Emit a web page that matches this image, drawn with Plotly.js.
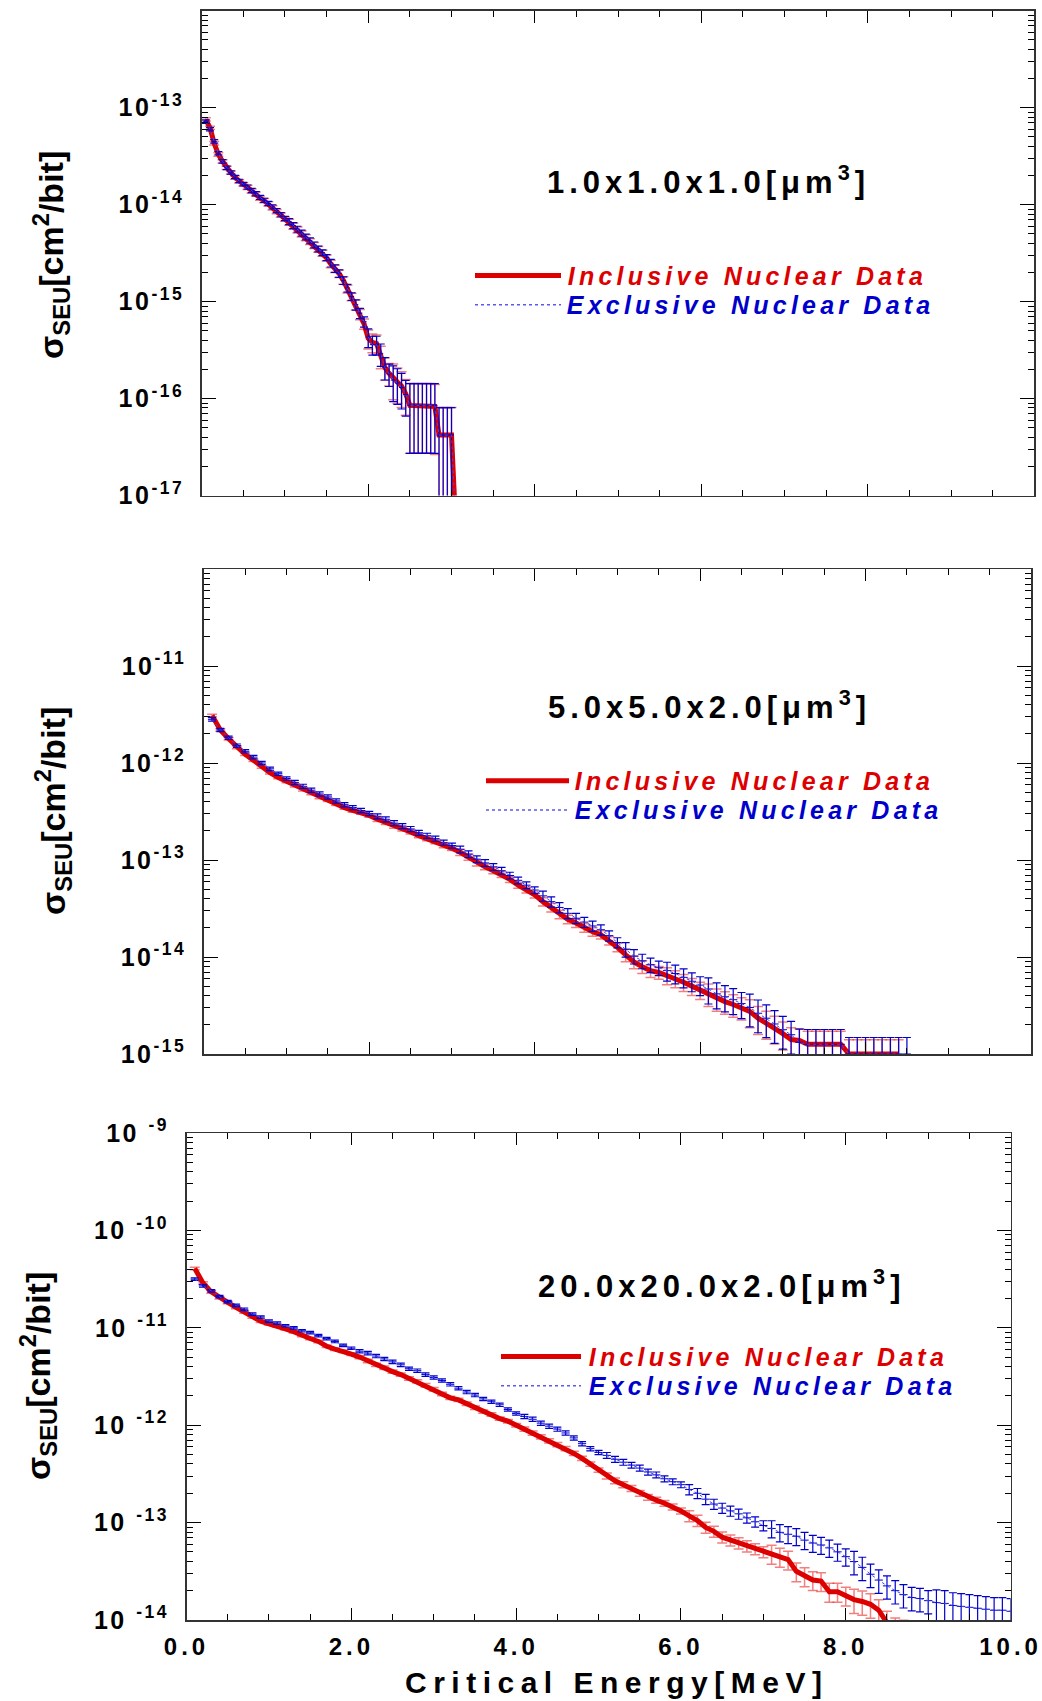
<!DOCTYPE html>
<html>
<head>
<meta charset="utf-8">
<script src="https://cdn.plot.ly/plotly-3.0.1.min.js"></script>
<style>
html,body{margin:0;padding:0;background:#fff;}
#chart{width:1042px;height:1701px;}
</style>
</head>
<body>
<div id="chart"></div>
<script>
// ---------------- DATA ----------------
// Panel 1 : 1.0x1.0x1.0 um^3
const energy1 = [0.05,0.10,0.15,0.20,0.25,0.30,0.35,0.40,0.45,0.50,
  0.55,0.60,0.65,0.70,0.75,0.80,0.85,0.90,0.95,1.00,
  1.05,1.10,1.15,1.20,1.25,1.30,1.35,1.40,1.45,1.50,
  1.55,1.60,1.65,1.70,1.75,1.80,1.85,1.90,1.95,2.00,
  2.05,2.10,2.15,2.20,2.25,2.30,2.35,2.40,2.45,2.50,
  2.55,2.60,2.65,2.70,2.75,2.80,2.85,2.90,2.95,3.00,3.05];
const inclusive1 = [7.6e-14,6.2e-14,4.3e-14,3.3e-14,2.8e-14,2.4e-14,2.14e-14,1.91e-14,1.74e-14,1.62e-14,
  1.51e-14,1.38e-14,1.29e-14,1.17e-14,1.10e-14,1.02e-14,9.3e-15,8.5e-15,7.8e-15,7.1e-15,
  6.6e-15,6.0e-15,5.5e-15,5.0e-15,4.57e-15,4.17e-15,3.8e-15,3.47e-15,3.16e-15,2.82e-15,
  2.45e-15,2.19e-15,1.95e-15,1.66e-15,1.35e-15,1.12e-15,9.3e-16,7.4e-16,5.9e-16,4.17e-16,
  3.8e-16,3.7e-16,2.75e-16,2.09e-16,1.82e-16,1.62e-16,1.48e-16,1.35e-16,1.12e-16,8.5e-17,
  8.5e-17,8.5e-17,8.5e-17,8.5e-17,8.5e-17,8.3e-17,4.2e-17,4.2e-17,4.2e-17,4.2e-17,5e-18];
const exclusive1 = [7.2e-14,6.0e-14,4.5e-14,3.4e-14,2.8e-14,2.4e-14,2.15e-14,1.93e-14,1.76e-14,1.63e-14,
  1.52e-14,1.40e-14,1.30e-14,1.19e-14,1.11e-14,1.03e-14,9.5e-15,8.7e-15,7.9e-15,7.2e-15,
  6.7e-15,6.1e-15,5.6e-15,5.1e-15,4.65e-15,4.25e-15,3.85e-15,3.5e-15,3.2e-15,2.85e-15,
  2.5e-15,2.2e-15,1.95e-15,1.65e-15,1.38e-15,1.13e-15,9.3e-16,7.6e-16,6.2e-16,4.3e-16,
  3.6e-16,3.6e-16,2.9e-16,2.1e-16,1.8e-16,1.55e-16,1.45e-16,1.3e-16,1.1e-16,8.5e-17,
  8.5e-17,8.5e-17,8.5e-17,8.5e-17,8.5e-17,8.5e-17,4.2e-17,4.2e-17,4.2e-17,4.2e-17,5e-18];
const relErr1 = [0.04,0.04,0.04,0.04,0.04,0.04,0.04,0.04,0.04,0.04,
  0.05,0.05,0.05,0.05,0.05,0.05,0.05,0.05,0.05,0.05,
  0.07,0.07,0.07,0.07,0.07,0.07,0.07,0.07,0.07,0.07,
  0.09,0.09,0.09,0.09,0.09,0.09,0.12,0.12,0.12,0.22,
  0.22,0.22,0.26,0.26,0.26,0.40,0.40,0.40,0.40,0.68,
  0.68,0.68,0.68,0.68,0.68,0.68,0.92,0.92,0.92,0.92,0.90];

// Panel 2 : 5.0x5.0x2.0 um^3
const energy2 = [0.1,0.2,0.3,0.4,0.5,0.6,0.7,0.8,0.9,1.0,
  1.1,1.2,1.3,1.4,1.5,1.6,1.7,1.8,1.9,2.0,
  2.1,2.2,2.3,2.4,2.5,2.6,2.7,2.8,2.9,3.0,
  3.1,3.2,3.3,3.4,3.5,3.6,3.7,3.8,3.9,4.0,
  4.1,4.2,4.3,4.4,4.5,4.6,4.7,4.8,4.9,5.0,
  5.1,5.2,5.3,5.4,5.5,5.6,5.7,5.8,5.9,6.0,
  6.1,6.2,6.3,6.4,6.5,6.6,6.7,6.8,6.9,7.0,
  7.1,7.2,7.3,7.4,7.5,7.6,7.7,7.8,7.9,8.0,
  8.1,8.2,8.3,8.4,8.5];
const inclusive2 = [3.09e-12,2.19e-12,1.78e-12,1.45e-12,1.23e-12,1.07e-12,9.12e-13,7.94e-13,7.08e-13,6.46e-13,
  5.89e-13,5.37e-13,4.90e-13,4.47e-13,4.17e-13,3.80e-13,3.47e-13,3.24e-13,3.09e-13,2.88e-13,
  2.63e-13,2.45e-13,2.24e-13,2.09e-13,1.95e-13,1.78e-13,1.66e-13,1.55e-13,1.41e-13,1.32e-13,
  1.20e-13,1.07e-13,9.33e-14,8.51e-14,7.76e-14,7.08e-14,6.31e-14,5.50e-14,4.90e-14,4.37e-14,
  3.72e-14,3.24e-14,2.75e-14,2.45e-14,2.24e-14,2.00e-14,1.82e-14,1.70e-14,1.48e-14,1.26e-14,
  1.05e-14,8.91e-15,7.94e-15,7.24e-15,6.92e-15,6.46e-15,6.03e-15,5.50e-15,5.01e-15,4.57e-15,
  4.17e-15,3.72e-15,3.47e-15,3.24e-15,3.02e-15,2.75e-15,2.34e-15,2.09e-15,1.86e-15,1.62e-15,
  1.41e-15,1.38e-15,1.26e-15,1.26e-15,1.26e-15,1.26e-15,1.26e-15,1.0e-15,1.0e-15,1.0e-15,
  1.0e-15,1.0e-15,1.0e-15,1.0e-15];
const exclusive2 = [2.82e-12,2.19e-12,1.82e-12,1.51e-12,1.32e-12,1.15e-12,1.00e-12,8.71e-13,7.76e-13,6.92e-13,
  6.31e-13,5.75e-13,5.25e-13,4.79e-13,4.47e-13,4.07e-13,3.72e-13,3.47e-13,3.24e-13,3.02e-13,
  2.82e-13,2.63e-13,2.40e-13,2.24e-13,2.09e-13,1.91e-13,1.78e-13,1.66e-13,1.51e-13,1.41e-13,
  1.29e-13,1.15e-13,1.02e-13,9.33e-14,8.51e-14,7.76e-14,6.92e-14,6.17e-14,5.50e-14,4.90e-14,
  4.27e-14,3.72e-14,3.24e-14,2.82e-14,2.51e-14,2.29e-14,2.09e-14,1.91e-14,1.66e-14,1.41e-14,
  1.20e-14,1.02e-14,9.12e-15,8.32e-15,7.76e-15,7.24e-15,6.76e-15,6.17e-15,5.62e-15,5.13e-15,
  4.68e-15,4.17e-15,3.89e-15,3.63e-15,3.31e-15,3.02e-15,2.63e-15,2.34e-15,2.04e-15,1.78e-15,
  1.58e-15,1.32e-15,1.26e-15,1.26e-15,1.26e-15,1.26e-15,1.26e-15,1.0e-15,1.0e-15,1.0e-15,
  1.0e-15,1.0e-15,1.0e-15,1.0e-15,1.0e-15];
const relErrInc2 = [0.03,0.03,0.03,0.03,0.03,0.03,0.03,0.03,0.03,0.03,
  0.04,0.04,0.04,0.04,0.04,0.04,0.04,0.04,0.04,0.04,
  0.05,0.05,0.05,0.05,0.05,0.05,0.05,0.05,0.05,0.05,
  0.07,0.07,0.07,0.07,0.07,0.07,0.07,0.07,0.07,0.07,
  0.10,0.10,0.10,0.10,0.10,0.10,0.10,0.10,0.10,0.10,
  0.15,0.15,0.15,0.15,0.15,0.20,0.20,0.20,0.20,0.20,
  0.26,0.26,0.26,0.26,0.26,0.32,0.32,0.32,0.32,0.32,
  0.32,0.32,0.36,0.36,0.36,0.36,0.36,0.40,0.40,0.40,
  0.40,0.40,0.40,0.40];
const relErrExc2 = [0.04,0.04,0.04,0.04,0.04,0.04,0.04,0.04,0.04,0.04,
  0.05,0.05,0.05,0.05,0.05,0.05,0.05,0.05,0.05,0.05,
  0.06,0.06,0.06,0.06,0.06,0.06,0.06,0.06,0.06,0.06,
  0.08,0.08,0.08,0.08,0.08,0.08,0.08,0.08,0.08,0.08,
  0.12,0.12,0.12,0.12,0.12,0.12,0.12,0.12,0.12,0.12,
  0.17,0.17,0.17,0.17,0.17,0.22,0.22,0.22,0.22,0.22,
  0.30,0.30,0.30,0.30,0.30,0.37,0.37,0.37,0.37,0.37,
  0.37,0.37,0.42,0.42,0.42,0.42,0.42,0.48,0.48,0.48,
  0.48,0.48,0.48,0.48,0.48];

// Panel 3 : 20.0x20.0x2.0 um^3
const energy3 = [0.1,0.2,0.3,0.4,0.5,0.6,0.7,0.8,0.9,1.0,
  1.1,1.2,1.3,1.4,1.5,1.6,1.7,1.8,1.9,2.0,
  2.1,2.2,2.3,2.4,2.5,2.6,2.7,2.8,2.9,3.0,
  3.1,3.2,3.3,3.4,3.5,3.6,3.7,3.8,3.9,4.0,
  4.1,4.2,4.3,4.4,4.5,4.6,4.7,4.8,4.9,5.0,
  5.1,5.2,5.3,5.4,5.5,5.6,5.7,5.8,5.9,6.0,
  6.1,6.2,6.3,6.4,6.5,6.6,6.7,6.8,6.9,7.0,
  7.1,7.2,7.3,7.4,7.5,7.6,7.7,7.8,7.9,8.0,
  8.1,8.2,8.3,8.4,8.5,8.6,8.7,8.8,8.9,9.0,
  9.1,9.2,9.3,9.4,9.5,9.6,9.7,9.8,9.9,10.0];
const inclusive3 = [4.07e-11,2.88e-11,2.34e-11,2.04e-11,1.82e-11,1.62e-11,1.45e-11,1.29e-11,1.17e-11,1.10e-11,
  1.05e-11,9.77e-12,9.12e-12,8.32e-12,7.76e-12,7.24e-12,6.46e-12,6.03e-12,5.75e-12,5.37e-12,
  5.01e-12,4.57e-12,4.17e-12,3.89e-12,3.55e-12,3.31e-12,3.02e-12,2.82e-12,2.57e-12,2.34e-12,
  2.09e-12,1.91e-12,1.82e-12,1.66e-12,1.51e-12,1.38e-12,1.29e-12,1.17e-12,1.10e-12,1.00e-12,
  9.12e-13,8.32e-13,7.59e-13,6.92e-13,6.31e-13,5.75e-13,5.13e-13,4.57e-13,3.98e-13,3.47e-13,
  3.02e-13,2.69e-13,2.45e-13,2.24e-13,2.00e-13,1.82e-13,1.70e-13,1.58e-13,1.45e-13,1.32e-13,
  1.17e-13,1.05e-13,8.91e-14,8.13e-14,7.08e-14,6.61e-14,6.17e-14,5.75e-14,5.37e-14,5.01e-14,
  4.79e-14,4.47e-14,4.17e-14,3.16e-14,2.82e-14,2.57e-14,2.51e-14,1.95e-14,1.95e-14,1.78e-14,
  1.62e-14,1.55e-14,1.45e-14,1.26e-14,9.33e-15,7.59e-15,7.08e-15];
const exclusive3 = [3.16e-11,2.69e-11,2.40e-11,2.09e-11,1.86e-11,1.70e-11,1.55e-11,1.38e-11,1.29e-11,1.17e-11,
  1.12e-11,1.05e-11,1.00e-11,9.33e-12,8.91e-12,8.32e-12,7.76e-12,7.24e-12,6.61e-12,6.17e-12,
  5.75e-12,5.50e-12,5.13e-12,4.79e-12,4.47e-12,4.17e-12,3.80e-12,3.63e-12,3.31e-12,3.09e-12,
  2.88e-12,2.63e-12,2.40e-12,2.19e-12,2.04e-12,1.86e-12,1.74e-12,1.62e-12,1.45e-12,1.32e-12,
  1.23e-12,1.15e-12,1.05e-12,9.77e-13,9.12e-13,8.32e-13,7.41e-13,6.46e-13,5.75e-13,5.25e-13,
  4.90e-13,4.47e-13,4.17e-13,3.89e-13,3.63e-13,3.31e-13,3.09e-13,2.82e-13,2.63e-13,2.45e-13,
  2.19e-13,2.00e-13,1.74e-13,1.55e-13,1.41e-13,1.32e-13,1.23e-13,1.12e-13,1.02e-13,9.33e-14,
  8.71e-14,7.94e-14,7.59e-14,7.24e-14,6.61e-14,6.17e-14,5.89e-14,5.50e-14,5.01e-14,4.47e-14,
  3.98e-14,3.47e-14,2.95e-14,2.57e-14,2.24e-14,2.00e-14,1.82e-14,1.70e-14,1.66e-14,1.58e-14,
  1.51e-14,1.48e-14,1.41e-14,1.38e-14,1.35e-14,1.32e-14,1.29e-14,1.26e-14,1.26e-14,1.23e-14];
const relErrInc3 = [0.03,0.03,0.03,0.03,0.03,0.03,0.03,0.03,0.03,0.03,
  0.03,0.03,0.03,0.03,0.03,0.03,0.03,0.03,0.03,0.03,
  0.04,0.04,0.04,0.04,0.04,0.04,0.04,0.04,0.04,0.04,
  0.04,0.04,0.04,0.04,0.04,0.04,0.04,0.04,0.04,0.04,
  0.05,0.05,0.05,0.05,0.05,0.05,0.05,0.05,0.05,0.05,
  0.07,0.07,0.07,0.07,0.07,0.07,0.07,0.07,0.07,0.07,
  0.13,0.13,0.13,0.13,0.13,0.13,0.13,0.13,0.13,0.13,
  0.22,0.22,0.22,0.22,0.22,0.22,0.22,0.22,0.22,0.22,
  0.28,0.28,0.28,0.28,0.32,0.38,0.40];
const relErrExc3 = [0.03,0.03,0.03,0.03,0.03,0.03,0.03,0.03,0.03,0.03,
  0.03,0.03,0.03,0.03,0.03,0.03,0.03,0.03,0.03,0.03,
  0.04,0.04,0.04,0.04,0.04,0.04,0.04,0.04,0.04,0.04,
  0.04,0.04,0.04,0.04,0.04,0.04,0.04,0.04,0.04,0.04,
  0.05,0.05,0.05,0.05,0.05,0.05,0.05,0.05,0.05,0.05,
  0.07,0.07,0.07,0.07,0.07,0.07,0.07,0.07,0.07,0.07,
  0.12,0.12,0.12,0.12,0.12,0.12,0.12,0.12,0.12,0.12,
  0.20,0.20,0.20,0.20,0.20,0.20,0.20,0.20,0.20,0.20,
  0.27,0.27,0.27,0.27,0.27,0.27,0.27,0.27,0.27,0.27,
  0.35,0.35,0.35,0.35,0.35,0.35,0.35,0.35,0.35,0.35];

// Tick labels
const xTickLabels = ['0.0','2.0','4.0','6.0','8.0','10.0'];
const yTicks1 = [1e-17,1e-16,1e-15,1e-14,1e-13];
const yTickText1 = ['10<sup>-17</sup>','10<sup>-16</sup>','10<sup>-15</sup>','10<sup>-14</sup>','10<sup>-13</sup>'];
const yTicks2 = [1e-15,1e-14,1e-13,1e-12,1e-11];
const yTickText2 = ['10<sup>-15</sup>','10<sup>-14</sup>','10<sup>-13</sup>','10<sup>-12</sup>','10<sup>-11</sup>'];
const yTicks3 = [1e-14,1e-13,1e-12,1e-11,1e-10,1e-9];
const yTickText3 = ['10 <sup>-14</sup>','10 <sup>-13</sup>','10 <sup>-12</sup>','10 <sup>-11</sup>','10 <sup>-10</sup>','10 <sup>-9</sup>'];
const panelTitles = ['1.0x1.0x1.0[μm<sup>3</sup>]','5.0x5.0x2.0[μm<sup>3</sup>]','20.0x20.0x2.0[μm<sup>3</sup>]'];
const seriesNames = ['Inclusive Nuclear Data','Exclusive Nuclear Data'];

// ---------------- LAYOUT / STYLE ----------------
const W = 1042, H = 1701;
const FONT = 'Liberation Sans, Arial, Helvetica, sans-serif';
const RED = '#dd0000', BLUE = '#0000cc';
const panels = [
  {x0:201.7, x1:1034.4, y0:10.8,  y1:495.5, yr:[-17,-12], tv:yTicks1, tt:yTickText1, inc:inclusive1, exc:exclusive1, eI:relErr1, eE:relErr1, en:energy1, ex:0.03,
   title:[708, 180], leg:{l0:475, l1:561, yI:275.5, yE:304.7, cxI:747, cxE:750}, ytitle:[51,255]},
  {x0:203.8, x1:1031.0, y0:569,   y1:1054,  yr:[-15,-10], tv:yTicks2, tt:yTickText2, inc:inclusive2, exc:exclusive2, eI:relErrInc2, eE:relErrExc2, en:energy2, ex:0.05,
   title:[709, 705], leg:{l0:486, l1:569, yI:780.7, yE:810, cxI:754, cxE:758}, ytitle:[53,811]},
  {x0:186.5, x1:1010.6, y0:1133,  y1:1620,  yr:[-14,-9],  tv:yTicks3, tt:yTickText3, inc:inclusive3, exc:exclusive3, eI:relErrInc3, eE:relErrExc3, en:energy3, ex:0.05,
   title:[722, 1284], leg:{l0:501, l1:581, yI:1356.5, yE:1385.8, cxI:769, cxE:772}, ytitle:[38,1376]}
];
const px = v => v / W, py = v => 1 - v / H;

const traces = [];
const layout = {
  width: W, height: H, margin:{l:0,r:0,t:0,b:0,pad:0},
  paper_bgcolor:'#fff', plot_bgcolor:'#fff', showlegend:false,
  font:{family:FONT, color:'#000'},
  annotations:[], shapes:[]
};
const spacing = [];

panels.forEach((p, i) => {
  const n = i === 0 ? '' : String(i + 1);
  const xa = 'x' + n, ya = 'y' + n;
  traces.push({
    type:'scatter', mode:'lines', name:seriesNames[0], xaxis:xa, yaxis:ya,
    x:p.en.slice(0, p.inc.length), y:p.inc,
    line:{color:RED, width:5},
    error_y:{type:'data', visible:true, array:p.inc.map((v,k)=>v*p.eI[k]), color:'rgba(235,40,40,0.6)', thickness:1.5, width:5}
  });
  traces.push({
    type:'scatter', mode:'lines', name:seriesNames[1], xaxis:xa, yaxis:ya,
    x:p.en.slice(0, p.exc.length), y:p.exc,
    line:{color:'#4646ee', width:1, dash:'dot'},
    error_y:{type:'data', visible:true, array:p.exc.map((v,k)=>v*p.eE[k]), color:BLUE, thickness:1.2, width:4},
    error_x:{type:'constant', visible:true, value:p.ex, color:BLUE, thickness:1, width:0}
  });
  layout['xaxis' + n] = {
    domain:[px(p.x0), px(p.x1)], anchor:ya, range:[0,10],
    tickmode:'array', tickvals:[0,2,4,6,8,10], ticktext:xTickLabels,
    ticks:'inside', ticklen:12, tickwidth:1, tickcolor:'#000',
    minor:{dtick:0.5, tick0:0, ticks:'inside', ticklen:6, tickwidth:1, tickcolor:'#000'},
    showline:true, linecolor:'#333', linewidth:1.5, mirror:'ticks',
    showgrid:false, zeroline:false, showticklabels: i === 2,
    tickfont:{family:FONT, size:24, color:'#000', weight:'bold'},
    ticklabelstandoff:5, fixedrange:true
  };
  layout['yaxis' + n] = {
    domain:[py(p.y1), py(p.y0)], anchor:xa, type:'log', range:p.yr,
    tickmode:'array', tickvals:p.tv, ticktext:p.tt,
    ticks:'inside', ticklen:14, tickwidth:1, tickcolor:'#000',
    minor:{dtick:'D1', ticks:'inside', ticklen:6, tickwidth:1, tickcolor:'#000'},
    showline:true, linecolor:'#333', linewidth:1.5, mirror:'ticks',
    showgrid:false, zeroline:false,
    tickfont:{family:FONT, size:25, color:'#000', weight:'bold'},
    ticklabelstandoff:11, fixedrange:true
  };
  // panel title
  layout.annotations.push({xref:'paper', yref:'paper', x:px(p.title[0]), y:py(p.title[1]), xanchor:'center', yanchor:'middle',
    text:panelTitles[i], showarrow:false, font:{family:FONT, size:31, color:'#000', weight:'bold'}});
  spacing.push(5);
  // legend texts
  layout.annotations.push({xref:'paper', yref:'paper', x:px(p.leg.cxI), y:py(p.leg.yI), xanchor:'center', yanchor:'middle',
    text:seriesNames[0], showarrow:false, font:{family:FONT, size:25, color:RED, weight:'bold', style:'italic'}});
  spacing.push(4.2);
  layout.annotations.push({xref:'paper', yref:'paper', x:px(p.leg.cxE), y:py(p.leg.yE), xanchor:'center', yanchor:'middle',
    text:seriesNames[1], showarrow:false, font:{family:FONT, size:25, color:BLUE, weight:'bold', style:'italic'}});
  spacing.push(4.2);
  // y-axis title
  layout.annotations.push({xref:'paper', yref:'paper', x:px(p.ytitle[0]), y:py(p.ytitle[1]), xanchor:'center', yanchor:'middle',
    text:'σ<sub>SEU</sub>[cm<sup>2</sup>/bit]', textangle:-90, showarrow:false, font:{family:FONT, size:34, color:'#000', weight:'bold'}});
  spacing.push(0);
  // legend line samples
  layout.shapes.push({type:'line', xref:'paper', yref:'paper', x0:px(p.leg.l0), x1:px(p.leg.l1), y0:py(p.leg.yI), y1:py(p.leg.yI),
    line:{color:RED, width:5}});
  layout.shapes.push({type:'line', xref:'paper', yref:'paper', x0:px(p.leg.l0), x1:px(p.leg.l1), y0:py(p.leg.yE), y1:py(p.leg.yE),
    line:{color:'#5a5af0', width:1.5, dash:'dot'}});
});

// x-axis title
layout.annotations.push({xref:'paper', yref:'paper', x:px(616), y:py(1682), xanchor:'center', yanchor:'middle',
  text:'Critical Energy[MeV]', showarrow:false, font:{family:FONT, size:30, color:'#000', weight:'bold'}});
spacing.push(6.5);

Plotly.newPlot('chart', traces, layout, {staticPlot:true, displayModeBar:false}).then(gd => {
  spacing.forEach((s, i) => {
    if (!s) return;
    const t = gd.querySelector('.annotation[data-index="' + i + '"] text.annotation-text');
    if (t) t.style.letterSpacing = s + 'px';
  });
  gd.querySelectorAll('.yaxislayer-above text').forEach(t => { t.style.letterSpacing = '2.5px'; });
  gd.querySelectorAll('.xaxislayer-above text').forEach(t => { t.style.letterSpacing = '4px'; });
});
</script>
</body>
</html>
